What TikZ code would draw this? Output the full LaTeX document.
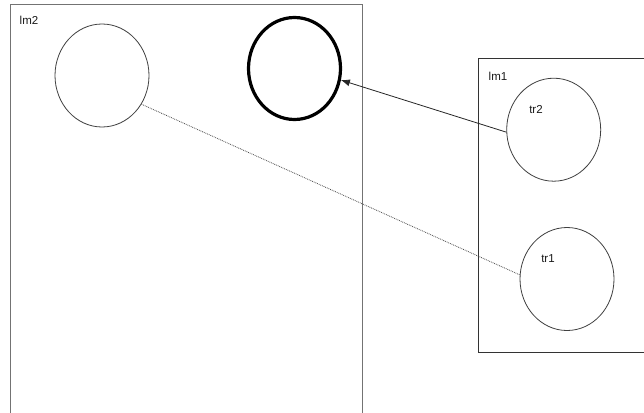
\documentclass[tikz,border=0pt]{standalone}
\usepackage{fontspec}
\setmainfont{Liberation Sans}
\usetikzlibrary{shapes.geometric,arrows.meta}
\begin{document}
\begin{tikzpicture}[x=1pt,y=-1pt,
  circ/.style={ellipse,draw=black!75,line width=0.8pt,inner sep=0pt,minimum width=94pt,minimum height=103pt},
  boldcirc/.style={ellipse,draw=black,line width=3.2pt,inner sep=0pt,minimum width=92pt,minimum height=102pt},
  lbl/.style={font=\fontsize{11.5}{13}\selectfont,inner sep=0pt,text=black!90},
  boxline/.style={line width=1pt}]
\useasboundingbox[fill=white] (0,0) rectangle (644,412);
% lm2 box
\draw[boxline,draw=black!55] (10,415) -- (10,5) -- (362,5) -- (362,415);
% lm1 box
\draw[boxline,draw=black!80,line width=0.8pt] (650,58) -- (478,58) -- (478,352) -- (650,352);
\node[lbl] (lmtwo) at (29,20) {lm2};
\node[lbl] (lmone) at (498,76) {lm1};
\node[circ] (c1) at (102,75.5) {};
\node[boldcirc] (b1) at (294.5,68.5) {};
\node[circ] (tr2c) at (553.7,129.7) {};
\node[circ] (tr1c) at (567,279) {};
\node[lbl] (tr2l) at (536,110) {tr2};
\node[lbl] (tr1l) at (548,259) {tr1};
\draw[-{Latex[length=9pt,width=7pt]},line width=0.8pt,black!85] (tr2c.183) -- (b1.-14);
\draw[densely dotted,black!70,line width=0.8pt] (c1.-36) -- (tr1c.175);
\end{tikzpicture}
\end{document}
